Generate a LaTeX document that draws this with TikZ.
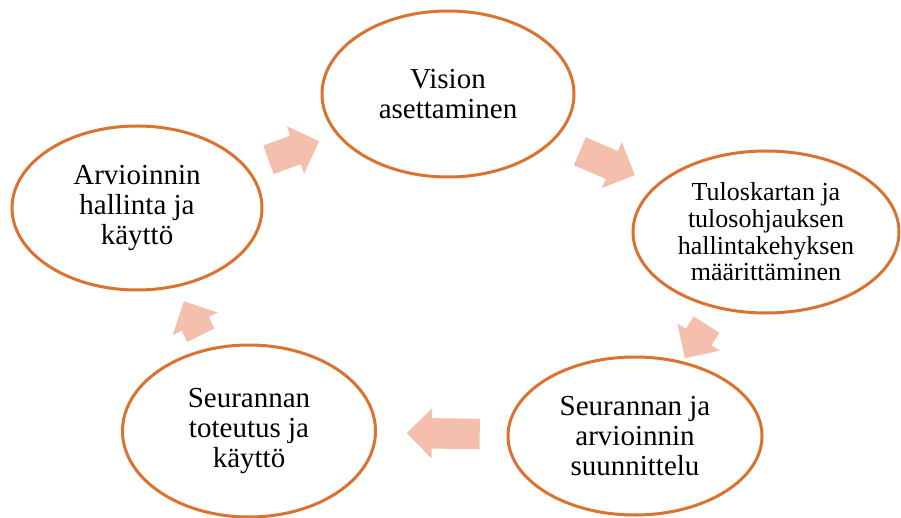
\documentclass[tikz,border=0pt]{standalone}
\usepackage{fontspec}
\setmainfont{Liberation Serif}
\usetikzlibrary{shapes.geometric}
\usetikzlibrary{shapes.arrows}
\definecolor{ringorange}{RGB}{218,114,48}
\definecolor{arrowpink}{RGB}{244,191,172}
\tikzset{x=1pt, y=-1pt,
phase/.style={ % Sets the properties for each phase
ellipse,
draw=ringorange,
line width=3pt,
fill=white,
align=center,
inner sep=0pt,
font=\fontsize{29}{30}\selectfont},
arrowblock/.style={ % Block arrow between two phases
single arrow,
fill=arrowpink,
draw=none,
inner xsep=0pt,
inner ysep=15pt,
minimum height=#1,
single arrow head extend=10pt,
sloped, allow upside down}}

\begin{document}
\begin{tikzpicture}
\useasboundingbox (0,0) rectangle (901,518);
\node[phase, minimum width=252pt, minimum height=166pt] (vision) at (448,94) {Vision\\asettaminen};
\node[phase, minimum width=266pt, minimum height=162pt, font=\fontsize{26}{26.7}\selectfont] (tulos) at (766,232) {Tuloskartan ja\\tulosohjauksen\\hallintakehyksen\\määrittäminen};
\node[phase, minimum width=254pt, minimum height=158pt] (suunn) at (635,436) {Seurannan ja\\arvioinnin\\suunnittelu};
\node[phase, minimum width=253pt, minimum height=172pt] (toteutus) at (249,431) {Seurannan\\toteutus ja\\käyttö};
\node[phase, minimum width=250pt, minimum height=164pt] (hallinta) at (137,208) {Arvioinnin\\hallinta ja\\käyttö};
\path (hallinta) -- node[pos=0.44, arrowblock=54pt]{} (vision);
\path (vision) -- node[pos=0.45, arrowblock=60pt]{} (tulos);
\path (tulos) -- node[arrowblock=40pt]{} (suunn);
\path (suunn) -- node[pos=0.43, arrowblock=73pt]{} (toteutus);
\path (toteutus) -- node[pos=0.38, arrowblock=38pt]{} (hallinta);
\end{tikzpicture}
\end{document}
